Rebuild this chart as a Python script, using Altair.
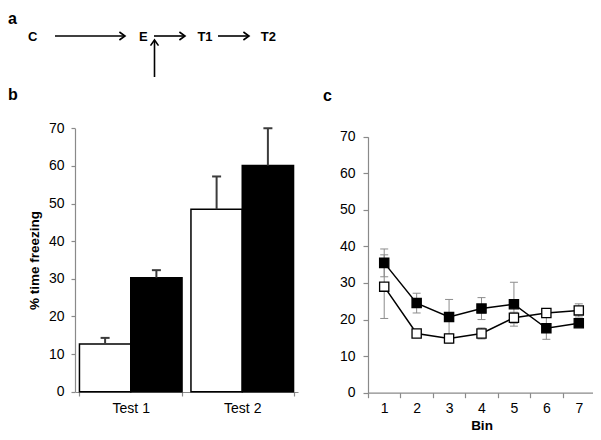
import altair as alt
import pandas as pd

# ---------------- data ----------------
# panel b: % time freezing per test, two groups (open / filled bars)
tests = ["Test 1", "Test 1", "Test 2", "Test 2"]
groups_b = ["Group 1", "Group 2", "Group 1", "Group 2"]
freeze_means = [12.7, 30.3, 48.5, 60.1]
freeze_sems = [1.6, 2.0, 8.7, 9.9]

# panel c: freezing per bin
bins = [1, 2, 3, 4, 5, 6, 7]
open_means = [29.0, 16.2, 14.8, 16.2, 20.5, 21.8, 22.5]
open_sems = [8.7, 0.8, 1.2, 1.5, 1.5, 1.0, 1.8]
filled_means = [35.5, 24.5, 20.7, 23.0, 24.2, 17.6, 19.0]
filled_sems = [3.8, 2.7, 4.8, 3.0, 6.0, 3.0, 1.0]

y_ticks = [0, 10, 20, 30, 40, 50, 60, 70]
GROUPS = ["Group 1", "Group 2"]

# panel a: schematic labels
diagram_labels = ["C", "E", "T1", "T2"]
panel_letters = ["a", "b", "c"]

# ---------------- layout (pixels) ----------------
W, H = 585, 424
M = 8  # page margin


def p(v):
    return v - M


diag_x = [32.7, 143.3, 205, 268.3]
diag_y = [37.3, 37.3, 37.3, 37.3]
letter_x = [8, 8, 323]
letter_y = [23.5, 100, 101]
arrow_x1 = [55, 154, 218, 154.5]
arrow_x2 = [124, 184, 248, 154.5]
arrow_y1 = [36, 36, 36, 77]
arrow_y2 = [36, 36, 36, 41]
head_x = [125, 185, 249, 154.5]
head_y = [36, 36, 36, 40]
head_ang = [0, 0, 0, 270]

# ---------------- tables ----------------
df_b = pd.DataFrame({"test": tests, "group": groups_b,
                     "mean": freeze_means, "sem": freeze_sems})
df_b["upper"] = df_b["mean"] + df_b["sem"]

df_c = pd.DataFrame({
    "bin": bins * 2,
    "group": ["Group 1"] * len(bins) + ["Group 2"] * len(bins),
    "mean": open_means + filled_means,
    "sem": open_sems + filled_sems,
})
df_c["lo"] = df_c["mean"] - df_c["sem"]
df_c["hi"] = df_c["mean"] + df_c["sem"]

df_text = pd.DataFrame({"label": diagram_labels,
                        "px": [p(v) for v in diag_x],
                        "py": [p(v) for v in diag_y]})
df_letters = pd.DataFrame({"label": panel_letters,
                           "px": [p(v) for v in letter_x],
                           "py": [p(v) for v in letter_y]})
df_arrows = pd.DataFrame({"x1": [p(v) for v in arrow_x1], "x2": [p(v) for v in arrow_x2],
                          "y1": [p(v) for v in arrow_y1], "y2": [p(v) for v in arrow_y2]})
df_heads = pd.DataFrame({"px": [p(v) for v in head_x], "py": [p(v) for v in head_y],
                         "ang": head_ang})

fill_scale = alt.Scale(domain=GROUPS, range=["white", "black"])

# ---------------- panel a (schematic) ----------------
txt = alt.Chart(df_text).mark_text(fontSize=13, fontWeight="bold", baseline="middle",
                                   align="center", color="black").encode(
    x=alt.X("px:Q", scale=None, axis=None), y=alt.Y("py:Q", scale=None, axis=None),
    text="label:N")
letters = alt.Chart(df_letters).mark_text(fontSize=16, fontWeight="bold", baseline="alphabetic",
                                          align="left", color="black").encode(
    x=alt.X("px:Q", scale=None, axis=None), y=alt.Y("py:Q", scale=None, axis=None),
    text="label:N")
arrows = alt.Chart(df_arrows).mark_rule(color="black", strokeWidth=1.6).encode(
    x=alt.X("x1:Q", scale=None, axis=None), x2="x2:Q",
    y=alt.Y("y1:Q", scale=None, axis=None), y2="y2:Q")
heads = alt.Chart(df_heads).mark_point(shape="M-1.4,-1L0,0L-1.4,1", filled=False, size=64,
                                       stroke="black", strokeWidth=1.6, opacity=1).encode(
    x=alt.X("px:Q", scale=None, axis=None), y=alt.Y("py:Q", scale=None, axis=None),
    angle=alt.Angle("ang:Q", scale=None))
panel_a = alt.layer(arrows, heads, txt, letters)

# ---------------- panel b (bars) ----------------
xb = alt.X("test:N",
           scale=alt.Scale(domain=["Test 1", "Test 2"], range=[p(75), p(298)],
                           paddingInner=0.08, paddingOuter=0.04),
           axis=alt.Axis(orient="bottom", offset=-(H - p(392)), tickBand="extent",
                         labelAngle=0, tickSize=4, labelPadding=5),
           title=None)
xob = alt.XOffset("group:N", scale=alt.Scale(domain=GROUPS, paddingInner=0, paddingOuter=0))
yb_scale = alt.Scale(domain=[0, 70], range=[p(391.7), p(128.3)], nice=False)
yb = alt.Y("mean:Q", scale=yb_scale,
           axis=alt.Axis(orient="left", offset=-p(75), values=y_ticks, tickSize=4,
                         labelPadding=7, titlePadding=7),
           title="% time freezing")

bars = alt.Chart(df_b).mark_bar(stroke="black", strokeWidth=1.5).encode(
    x=xb, xOffset=xob, y=yb,
    fill=alt.Fill("group:N", scale=fill_scale, legend=None))
err_b = alt.Chart(df_b).mark_rule(color="#3c3c3c", strokeWidth=2).encode(
    x=xb, xOffset=xob, y=alt.Y("mean:Q", scale=yb_scale), y2="upper:Q")
cap_b = alt.Chart(df_b).mark_tick(color="#3c3c3c", thickness=2, size=9, orient="horizontal",
                                  opacity=1).encode(
    x=xb, xOffset=xob, y=alt.Y("upper:Q", scale=yb_scale))
panel_b = alt.layer(bars, err_b, cap_b)

# ---------------- panel c (lines) ----------------
xc = alt.X("bin:O",
           scale=alt.Scale(domain=bins, range=[p(368), p(595)], paddingInner=0, paddingOuter=0),
           axis=alt.Axis(orient="bottom", offset=-(H - p(392.7)), tickBand="extent",
                         labelAngle=0, tickSize=5, labelPadding=4, titlePadding=3),
           title="Bin")
yc_scale = alt.Scale(domain=[0, 70], range=[p(392.7), p(136.7)], nice=False)
yc = alt.Y("mean:Q", scale=yc_scale,
           axis=alt.Axis(orient="left", offset=-p(368), values=y_ticks, tickSize=5,
                         labelPadding=8),
           title=None)

err_c = alt.Chart(df_c).mark_rule(color="#8c8c8c", strokeWidth=1).encode(
    x=xc, y=alt.Y("lo:Q", scale=yc_scale), y2="hi:Q")
cap_lo = alt.Chart(df_c).mark_tick(color="#8c8c8c", thickness=1, size=8, orient="horizontal",
                                   opacity=1).encode(x=xc, y=alt.Y("lo:Q", scale=yc_scale))
cap_hi = alt.Chart(df_c).mark_tick(color="#8c8c8c", thickness=1, size=8, orient="horizontal",
                                   opacity=1).encode(x=xc, y=alt.Y("hi:Q", scale=yc_scale))
lines = alt.Chart(df_c).mark_line(color="black", strokeWidth=1.5).encode(
    x=xc, y=yc, detail="group:N")
pts = alt.Chart(df_c).mark_point(shape="square", filled=True, size=85, stroke="black",
                                 strokeWidth=1.3, opacity=1).encode(
    x=xc, y=yc, fill=alt.Fill("group:N", scale=fill_scale, legend=None))
panel_c = alt.layer(err_c, cap_lo, cap_hi, lines, pts)

chart = alt.layer(panel_b, panel_c, panel_a).resolve_scale(
    x="independent", y="independent"
).properties(
    width=W, height=H, padding=0, autosize=alt.AutoSizeParams(type="none")
).configure(font="Liberation Sans").configure_view(
    stroke="transparent"
).configure_axis(
    grid=False, domainColor="#8a8a8a", tickColor="#8a8a8a", domainWidth=1.2, tickWidth=1.2,
    labelColor="black", labelFontSize=14, titleColor="black", titleFontSize=13.5,
    titleFontWeight="bold"
)

chart.save("out.html", embed_options={"renderer": "svg", "actions": False})
